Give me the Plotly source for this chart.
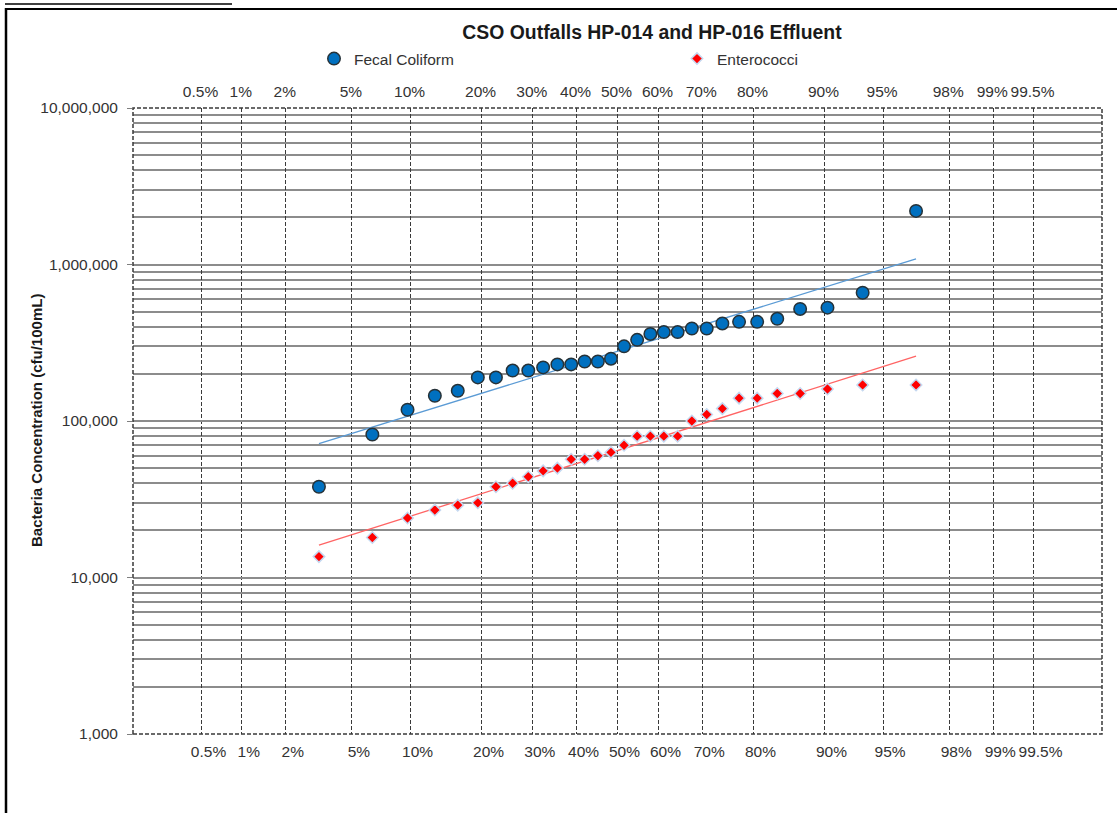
import numpy as np
import plotly.graph_objects as go
from statistics import NormalDist

# ---- data -------------------------------------------------------------
fecal_coliform = [38000, 82000, 118000, 145000, 156000, 190000, 190000, 210000,
                  210000, 220000, 230000, 230000, 240000, 240000, 250000, 300000,
                  330000, 360000, 370000, 370000, 390000, 390000, 420000, 430000,
                  430000, 450000, 520000, 530000, 660000, 2200000]
enterococci = [13600, 18000, 24000, 27000, 29000, 30000, 38000, 40000, 44000,
               48000, 50000, 57000, 57000, 60000, 63000, 70000, 80000, 80000,
               80000, 80000, 100000, 110000, 120000, 140000, 140000, 150000,
               150000, 160000, 170000, 170000]

prob_ticks = [0.005, 0.01, 0.02, 0.05, 0.10, 0.20, 0.30, 0.40, 0.50, 0.60,
              0.70, 0.80, 0.90, 0.95, 0.98, 0.99, 0.995]
prob_labels = ["0.5%", "1%", "2%", "5%", "10%", "20%", "30%", "40%", "50%",
               "60%", "70%", "80%", "90%", "95%", "98%", "99%", "99.5%"]
conc_ticks = [1e3, 1e4, 1e5, 1e6, 1e7]
conc_labels = ["1,000", "10,000", "100,000", "1,000,000", "10,000,000"]

# ---- page geometry ----------------------------------------------------
W, H = 1117, 813
ML, MR, MT, MB = 133, 15, 108, 79
PW, PH = W - ML - MR, H - MT - MB


def px(x):
    return (x - ML) / PW


def py(y):
    return (H - MB - y) / PH


FONT = "Liberation Sans, Arial, sans-serif"
TXT = "#333333"

nd = NormalDist()


def weibull_z(n):
    return np.array([nd.inv_cdf(i / (n + 1)) for i in range(1, n + 1)])


z_fc = weibull_z(len(fecal_coliform))
z_en = weibull_z(len(enterococci))
z_ticks = [nd.inv_cdf(p) for p in prob_ticks]


def lognormal_fit(z, values):
    b, a = np.polyfit(z, np.log10(values), 1)
    zz = np.array([z[0], z[-1]])
    return zz, 10 ** (a + b * zz)


fit_fc = lognormal_fit(z_fc, fecal_coliform)
fit_en = lognormal_fit(z_en, enterococci)

fig = go.Figure()

# trend lines
fig.add_trace(go.Scatter(x=fit_fc[0], y=fit_fc[1], mode="lines",
                         line=dict(color="#5B9BD5", width=1.3),
                         showlegend=False, hoverinfo="skip"))
fig.add_trace(go.Scatter(x=fit_en[0], y=fit_en[1], mode="lines",
                         line=dict(color="#FF6464", width=1.3),
                         showlegend=False, hoverinfo="skip"))

# observations
fig.add_trace(go.Scatter(x=z_fc, y=fecal_coliform, mode="markers",
                         name="Fecal Coliform", legend="legend",
                         marker=dict(symbol="circle", size=12.5, color="#0070C0",
                                     line=dict(color="#263238", width=1.5))))
fig.add_trace(go.Scatter(x=z_en, y=enterococci, mode="markers",
                         name="Enterococci", legend="legend2",
                         marker=dict(symbol="diamond", size=8.8, color="#FF0000",
                                     line=dict(color="#C5D9F1", width=1.5))))

# carrier for the top probability axis
fig.add_trace(go.Scatter(x=[0], y=[1e5], xaxis="x2", mode="markers",
                         marker=dict(opacity=0), showlegend=False,
                         hoverinfo="skip"))

minor_vals = [m * 10 ** e for e in range(3, 7) for m in range(2, 10)]

axis_font = dict(family=FONT, size=15.5, color=TXT)

fig.update_layout(
    width=W, height=H,
    margin=dict(l=ML, r=MR, t=MT, b=MB, pad=0),
    paper_bgcolor="white", plot_bgcolor="white",
    font=dict(family=FONT, color=TXT),
    title=dict(text="<b>CSO Outfalls HP-014 and HP-016 Effluent</b>",
               font=dict(family=FONT, size=19.4, color="#1a1a1a"),
               x=652 / W, xanchor="center", xref="container",
               y=1 - 32 / H, yanchor="middle", yref="container"),
    xaxis=dict(range=[-3, 3], tickmode="array", tickvals=z_ticks,
               ticktext=prob_labels, ticks="", showline=False,
               showgrid=True, gridcolor="#3a3a3a", gridwidth=1.3,
               griddash="4px,2px", zeroline=False,
               tickfont=axis_font, ticklabelshift=7, ticklabelstandoff=6),
    xaxis2=dict(range=[-3, 3], overlaying="x", side="top", anchor="y",
                tickmode="array", tickvals=z_ticks, ticktext=prob_labels,
                ticks="", showline=False, showgrid=False, zeroline=False,
                tickfont=axis_font, ticklabelshift=-1, ticklabelstandoff=7),
    yaxis=dict(type="log", range=[3, 7], tickmode="array",
               tickvals=conc_ticks, ticktext=conc_labels,
               ticks="outside", ticklen=5, tickcolor="#7f7f7f", tickwidth=1,
               showline=False, zeroline=False,
               showgrid=True, gridcolor="#8c8c8c", gridwidth=1.5,
               minor=dict(tickvals=minor_vals, showgrid=True,
                          gridcolor="#8c8c8c", gridwidth=1.5, ticks=""),
               tickfont=axis_font, ticklabelstandoff=6),
    legend=dict(orientation="h", x=px(314), xanchor="left",
                y=py(59), yanchor="middle", bgcolor="rgba(0,0,0,0)",
                itemwidth=30,
                font=dict(family=FONT, size=15.5, color=TXT)),
    legend2=dict(orientation="h", x=px(677), xanchor="left",
                 y=py(59), yanchor="middle", bgcolor="rgba(0,0,0,0)",
                 itemwidth=30,
                 font=dict(family=FONT, size=15.5, color=TXT)),
)

# y-axis title
fig.add_annotation(text="<b>Bacteria Concentration (cfu/100mL)</b>",
                   xref="paper", yref="paper", x=px(36), y=0.5,
                   xanchor="center", yanchor="middle",
                   textangle=-90, showarrow=False,
                   font=dict(family=FONT, size=15, color="#1a1a1a"))

# dashed plot border
fig.add_shape(type="rect", xref="paper", yref="paper", x0=0, x1=1, y0=0, y1=1,
              line=dict(color="#3a3a3a", width=1.5, dash="4px,2px"))

# page frame
fig.add_shape(type="line", xref="paper", yref="paper",
              x0=px(6), x1=px(6), y0=py(8), y1=py(H + 2),
              line=dict(color="black", width=2.5))
fig.add_shape(type="line", xref="paper", yref="paper",
              x0=px(5), x1=px(W + 2), y0=py(9), y1=py(9),
              line=dict(color="black", width=2))
fig.add_shape(type="line", xref="paper", yref="paper",
              x0=px(5), x1=px(232), y0=py(4), y1=py(4),
              line=dict(color="black", width=1.5))

fig.write_html("out.html")
